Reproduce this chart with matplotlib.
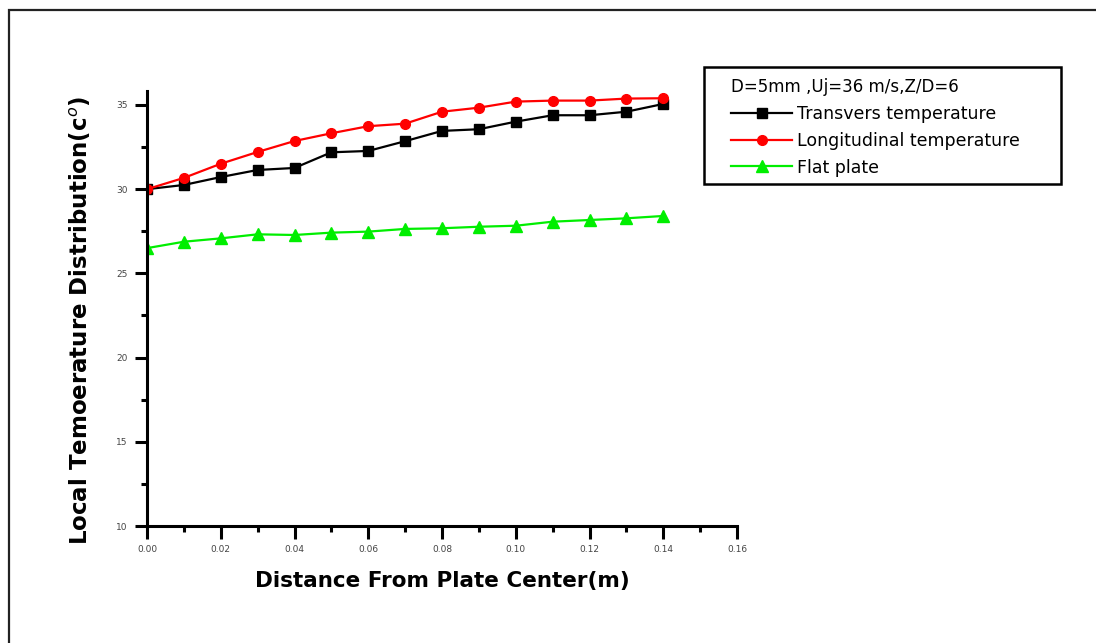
import matplotlib
matplotlib.use("Agg")
import matplotlib.pyplot as plt
from matplotlib.patches import Rectangle
from matplotlib.ticker import MultipleLocator, FormatStrFormatter

# Radial positions on the plate (m)
distance = [0.00, 0.01, 0.02, 0.03, 0.04, 0.05, 0.06, 0.07,
            0.08, 0.09, 0.10, 0.11, 0.12, 0.13, 0.14]

# Local temperatures (deg C)
transvers = [30.0, 30.25, 30.72, 31.14, 31.26, 32.19, 32.27, 32.85,
             33.46, 33.56, 34.01, 34.39, 34.39, 34.60, 35.06]
longitudinal = [30.0, 30.67, 31.51, 32.21, 32.86, 33.32, 33.74, 33.89,
                34.60, 34.84, 35.20, 35.26, 35.26, 35.38, 35.40]
flat_plate = [26.5, 26.88, 27.08, 27.32, 27.28, 27.42, 27.48, 27.64,
              27.68, 27.77, 27.83, 28.07, 28.17, 28.27, 28.41]

series_labels = ["Transvers temperature", "Longitudinal temperature", "Flat plate"]
legend_title = "D=5mm ,Uj=36 m/s,Z/D=6"

W, H = 1096, 643
fig = plt.figure(figsize=(W / 100, H / 100), dpi=100)
fig.patch.set_facecolor("white")

# outer frame
fig.add_artist(Rectangle((9 / W, -0.05), 1.2, 1 - 10 / H + 0.05,
                         transform=fig.transFigure, fill=False,
                         edgecolor="#222222", linewidth=1.6))

ax_left, ax_right, ax_top, ax_bottom = 147, 737, 91, 526
ax = fig.add_axes([ax_left / W, 1 - ax_bottom / H,
                   (ax_right - ax_left) / W, (ax_bottom - ax_top) / H])

ax.plot(distance, transvers, color="black", lw=1.6, marker="s", ms=7,
        label=series_labels[0])
ax.plot(distance, longitudinal, color="#ff0000", lw=1.6, marker="o", ms=7,
        label=series_labels[1])
ax.plot(distance, flat_plate, color="#00ee00", lw=1.6, marker="^", ms=8,
        label=series_labels[2])

ax.set_xlim(0, 0.16)
ax.set_ylim(10, 35.83)
ax.xaxis.set_major_locator(MultipleLocator(0.02))
ax.xaxis.set_minor_locator(MultipleLocator(0.01))
ax.yaxis.set_major_locator(MultipleLocator(5))
ax.yaxis.set_minor_locator(MultipleLocator(2.5))
ax.xaxis.set_major_formatter(FormatStrFormatter("%.2f"))
ax.yaxis.set_major_formatter(FormatStrFormatter("%d"))

for side in ("top", "right"):
    ax.spines[side].set_visible(False)
for side in ("left", "bottom"):
    ax.spines[side].set_linewidth(2.2)
ax.tick_params(which="major", direction="out", length=9, width=2.2,
               labelsize=6.5, labelcolor="#444444", pad=5)
ax.tick_params(which="minor", direction="out", length=4, width=2.2)

aw, ah = ax_right - ax_left, ax_bottom - ax_top

ax.set_xlabel("Distance From Plate Center(m)", fontsize=15.5, fontweight="bold",
              family="DejaVu Sans", labelpad=12)
ax.set_ylabel("Local Temoerature Distribution(c$^{o}$)", fontsize=16.5,
              fontweight="bold", family="DejaVu Sans")
ax.yaxis.set_label_coords((93 - ax_left) / aw, (ax_bottom - 320) / ah)

# legend frame spans pixel columns 704..1061, rows 67..184
ax.add_patch(Rectangle((704 / W, 1 - 184 / H), (1061 - 704) / W, (184 - 67) / H,
                       transform=fig.transFigure, fill=True, facecolor="white",
                       edgecolor="black", linewidth=1.8, zorder=5, clip_on=False))
leg = ax.legend(title=legend_title, loc="upper left",
                bbox_to_anchor=((728 - ax_left) / aw, (ax_bottom - 75) / ah),
                frameon=False, fontsize=12.5, title_fontsize=12,
                handlelength=3.5, handletextpad=0.3, borderpad=0.2,
                labelspacing=0.5, alignment="left", borderaxespad=0)
leg.set_zorder(6)

fig.savefig("out.png", dpi=100, facecolor="white")
